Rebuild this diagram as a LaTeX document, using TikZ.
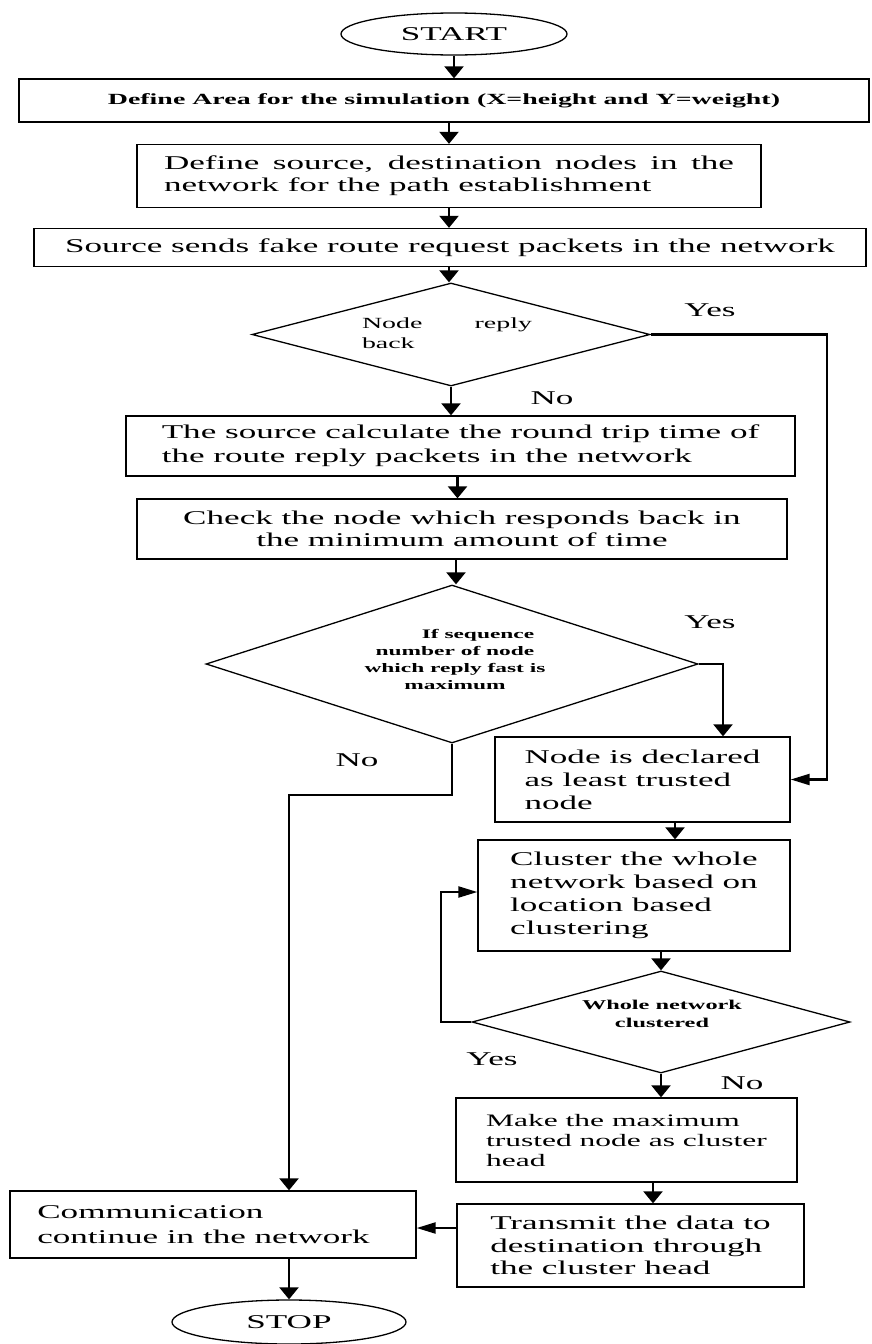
\documentclass[tikz,border=0pt]{standalone}
\usepackage{fontspec}
\setmainfont{Liberation Serif}[FakeStretch=1.8]
\usetikzlibrary{shapes.geometric,arrows.meta}
\begin{document}
\begin{tikzpicture}[x=1pt,y=-1pt,
  box/.style={draw, line width=1.3pt, inner sep=0pt, align=left},
  term/.style={draw, ellipse, line width=1.3pt, inner sep=0pt},
  dec/.style={draw, diamond, line width=1.3pt, inner sep=0pt},
  big/.style={font=\fontsize{19.5}{23}\selectfont},
  lab/.style={font=\fontsize{19.5}{23}\selectfont, inner sep=0pt},
  dtext/.style={font=\bfseries\fontsize{13}{17}\selectfont, inner sep=0pt, align=center},
  varr/.style={line width=2.2pt, -{Triangle[length=12pt,width=19pt]}},
  harr/.style={line width=2.2pt, -{Triangle[length=19pt,width=11pt]}}
]
\useasboundingbox (0,0) rectangle (872,1344);

% nodes
\node[term, minimum width=226pt, minimum height=42pt, big] (start) at (454,34) {START};
\node[box, minimum width=850pt, minimum height=43pt, font=\bfseries\fontsize{15.5}{18}\selectfont] (b1) at (444,100.5) {Define Area for the simulation (X=height and Y=weight)};
\node[box, minimum width=624pt, minimum height=63pt, text width=570pt, align=justify, font=\fontsize{19.5}{22}\selectfont] (b2) at (449,176) {Define source, destination nodes in the\linebreak network for the path establishment};
\node[box, minimum width=832pt, minimum height=38pt, big] (b3) at (450,247.5) {Source sends fake route request packets in the network};
\node[dec, minimum width=398pt, minimum height=103pt] (d1) at (451,334.5) {};
\node[font=\fontsize{15.5}{20}\selectfont, text width=170pt, align=left, inner sep=0pt] (d1t) at (447,333) {Node\hfill reply\\back};
\node[box, minimum width=669pt, minimum height=60pt, font=\fontsize{19.5}{24}\selectfont] (b4) at (460.5,446) {The source calculate the round trip time of\\the route reply packets in the network};
\node[box, minimum width=650pt, minimum height=60pt, align=center, font=\fontsize{19.5}{22}\selectfont] (b5) at (462,529) {Check the node which responds back in\\the minimum amount of time};
\node[dec, minimum width=492pt, minimum height=158pt] (d2) at (452,664) {};
\node[dtext] (d2t) at (455,659) {\hspace*{46pt}If sequence\\number of node\\which reply fast is\\maximum};
\node[box, minimum width=295pt, minimum height=85pt, font=\fontsize{19.5}{23}\selectfont] (b6) at (642.5,779.5) {Node is declared\\as least trusted\\node};
\node[box, minimum width=312pt, minimum height=111pt, font=\fontsize{19.5}{23}\selectfont] (b7) at (634,895.5) {Cluster the whole\\network based on\\location based\\clustering};
\node[dec, minimum width=378pt, minimum height=102pt] (d3) at (661,1022) {};
\node[dtext, font=\bfseries\fontsize{13.5}{18}\selectfont] (d3t) at (662,1014) {Whole network\\clustered};
\node[box, minimum width=341pt, minimum height=84pt, font=\fontsize{17.5}{20}\selectfont] (b8) at (626.5,1140) {Make the maximum\\trusted node as cluster\\head};
\node[box, minimum width=347pt, minimum height=83pt, font=\fontsize{19.5}{22.5}\selectfont] (b9) at (630.5,1245.5) {Transmit the data to\\destination through\\the cluster head};
\node[box, minimum width=406pt, minimum height=67pt, font=\fontsize{19.5}{25}\selectfont] (comm) at (213,1224.5) {Communication\\continue in the network\hspace*{19pt}};
\node[term, minimum width=234pt, minimum height=44pt, big] (stop) at (289,1322) {STOP};

% labels
\node[lab] (yes1) at (710,310) {Yes};
\node[lab] (no1) at (552,398) {No};
\node[lab] (yes2) at (710,622) {Yes};
\node[lab] (no2) at (357,760) {No};
\node[lab] (yes3) at (492,1059) {Yes};
\node[lab] (no3) at (742,1083) {No};

% connectors
\draw[varr] (start.south) -- (start.south |- b1.north);
\draw[varr] ([xshift=5pt]b1.south) -- ([xshift=5pt]b1.south |- b2.north);
\draw[varr] (b2.south) -- (b2.south |- b3.north);
\draw[varr] ([xshift=-1pt]b3.south) -- ([xshift=-1pt]b3.south |- d1.north);
\draw[varr] (d1.south) -- (d1.south |- b4.north);
\draw[varr] ([xshift=-3pt]b4.south) -- ([xshift=-3pt]b4.south |- b5.north);
\draw[varr] ([xshift=-6pt]b5.south) -- ([xshift=-6pt]b5.south |- d2.north);
\draw[harr] (d1.east) -- ++(176,0) |- (b6.east);
\draw[varr] (d2.east) -| ([xshift=80.5pt]b6.north);
\draw[varr] (d2.south) -- ++(0,51) -| (stop.north |- comm.north);
\draw[varr] ([xshift=32.5pt]b6.south) -- ([xshift=32.5pt]b6.south |- b7.north);
\draw[varr] (d3.north |- b7.south) -- (d3.north);
\draw[harr] (d3.west) -- ++(-30,0) |- ([yshift=3.5pt]b7.west);
\draw[varr] (d3.south) -- (d3.south |- b8.north);
\draw[varr] ([xshift=26.5pt]b8.south) -- ([xshift=26.5pt]b8.south |- b9.north);
\coordinate (cme) at ([yshift=-3.5pt]comm.east);
\draw[harr] (b9.west |- cme) -- (cme);
\draw[varr] (stop.north |- comm.south) -- (stop.north);
\end{tikzpicture}
\end{document}
